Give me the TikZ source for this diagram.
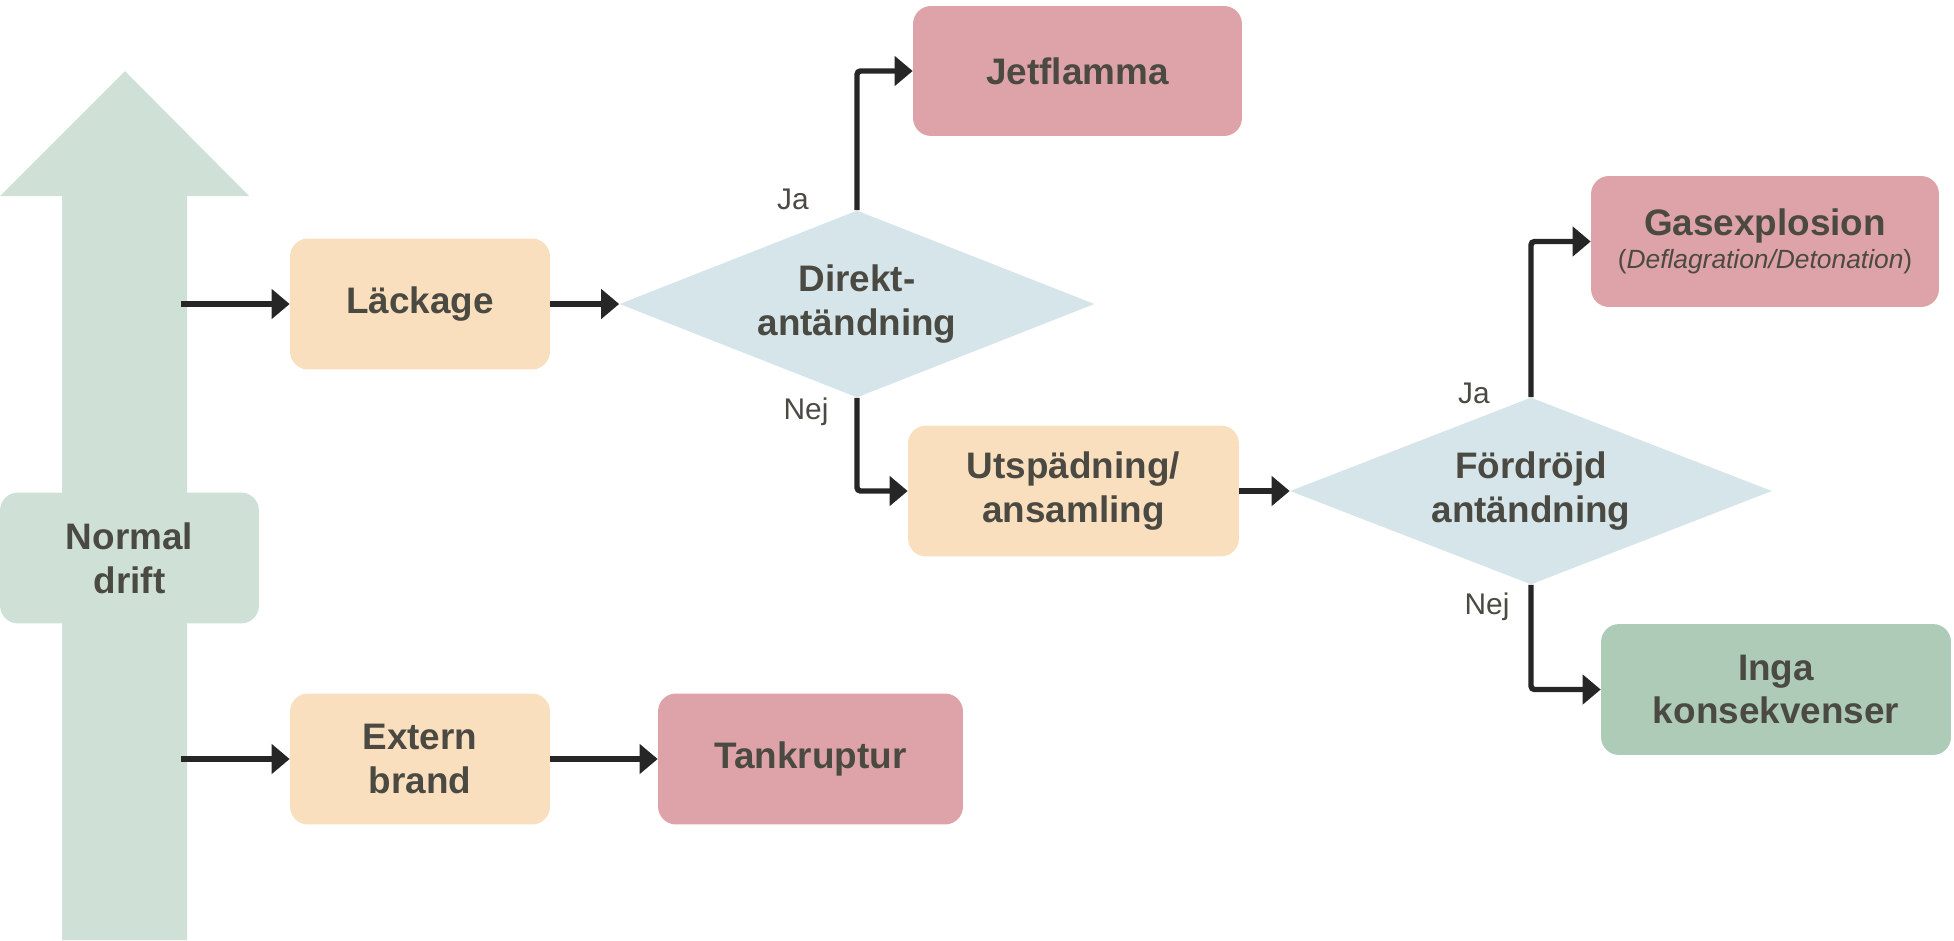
\documentclass[tikz,border=0pt]{standalone}
\usepackage{fontspec}
\setmainfont{Liberation Sans}
\usetikzlibrary{arrows.meta, shapes.geometric}

\definecolor{txtgray}{HTML}{4B4A42}
\definecolor{boxorange}{HTML}{FADFBF}
\definecolor{boxred}{HTML}{DEA3A8}
\definecolor{boxgreen}{HTML}{AECBB8}
\definecolor{flowgreen}{HTML}{CFE1D6}
\definecolor{diamblue}{HTML}{D5E5EA}
\definecolor{linedark}{HTML}{262626}

\begin{document}
\begin{tikzpicture}[
  x=0.02cm, y=-0.02cm,
  font=\fontsize{21}{24}\selectfont\bfseries,
  item/.style={rounded corners=0.36cm, align=center, text=txtgray,
               minimum height=2.62cm, inner sep=2pt},
  stage/.style={item, fill=boxorange, minimum width=5.2cm},
  outcome/.style={item, fill=boxred},
  decision/.style={diamond, aspect=2.5, fill=diamblue, inner sep=0pt,
                   align=center, text=txtgray, minimum height=3.74cm},
  arrow/.style={-{Triangle[length=0.36cm, width=0.58cm]}, line width=3.1pt,
                draw=linedark, rounded corners=2pt},
  answer/.style={font=\fontsize{17}{20}\selectfont, text=txtgray},
]
\useasboundingbox (0,0) rectangle (1954,940);

% flow of normal operation
\fill[flowgreen] (62,940) -- (62,196) -- (0,196) -- (125,71) -- (249,196)
  -- (187,196) -- (187,940) -- cycle;
\node[item, fill=flowgreen, minimum width=5.18cm] (normal) at (129.5,558) {Normal\\[1pt]drift};
\coordinate (tapleak) at (181,304);
\coordinate (tapfire) at (181,759);

\node[stage] (leak) at (420,304) {Läckage};
\node[stage] (fire) at (420,759) {Extern\\[1pt]brand};
\node[outcome, minimum width=6.1cm] (rupture) at (810.5,759) {Tankruptur};

\node[decision, minimum width=9.5cm] (direct) at (857,304) {Direkt-\\[1pt]antändning};
\node[outcome, minimum width=6.58cm, minimum height=2.6cm] (jet) at (1077.5,71) {Jetflamma};
\node[stage, minimum width=6.62cm] (dilute) at (1073.5,491) {Utspädning/\\[1pt]ansamling};

\node[decision, minimum width=9.64cm] (delayed) at (1531,491) {Fördröjd\\[1pt]antändning};
\node[outcome, minimum width=6.96cm] (gas) at (1765,241.5)
  {Gasexplosion\\[-5pt]{\fontsize{15}{18}\selectfont\mdseries (\textit{Deflagration/Detonation})}};
\node[item, fill=boxgreen, minimum width=7cm] (none) at (1776,689.5) {Inga\\[1pt]konsekvenser};

\node[answer] (ja1) at (793,199) {Ja};
\node[answer] (nej1) at (806,412) {Nej};
\node[answer] (ja2) at (1474,393) {Ja};
\node[answer] (nej2) at (1487,607) {Nej};

\draw[arrow] (tapleak) -- (leak);
\draw[arrow] (tapfire) -- (fire);
\draw[arrow] (leak) -- (direct);
\draw[arrow] (fire) -- (rupture);
\draw[arrow] (direct.north) |- (jet.west);
\draw[arrow] (direct.south) |- (dilute.west);
\draw[arrow] (dilute) -- (delayed);
\draw[arrow] (delayed.north) |- (gas.west);
\draw[arrow] (delayed.south) |- (none.west);
\end{tikzpicture}
\end{document}
